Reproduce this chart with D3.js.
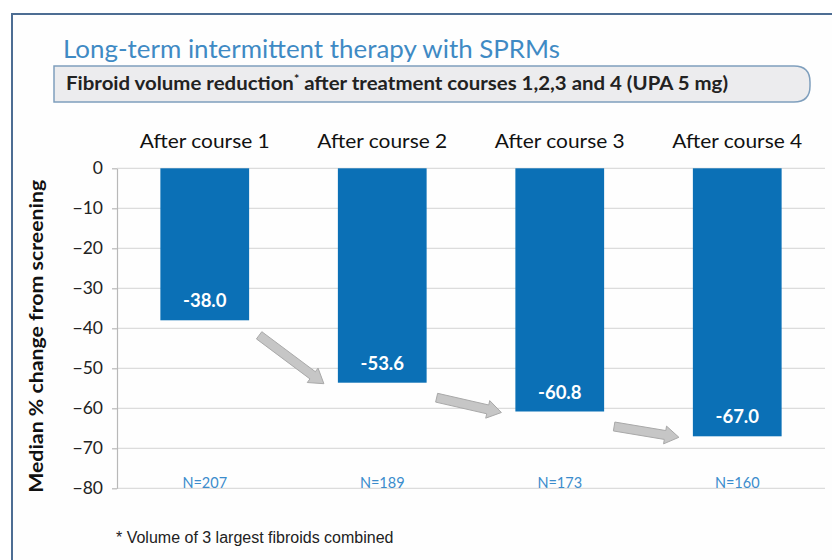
<!DOCTYPE html>
<html>
<head>
<meta charset="utf-8">
<script src="https://cdn.jsdelivr.net/npm/d3@7"></script>
<style>
  html, body { margin: 0; padding: 0; background: #fff; }
  svg { display: block; }
  .tick text { font-family: Lato, "Open Sans", sans-serif; font-size: 17.5px; fill: #222; }
</style>
</head>
<body>
<svg id="svg" width="832" height="560"></svg>
<script>
// data
const courses = ['After course 1', 'After course 2', 'After course 3', 'After course 4'];
const medianChange = [-38.0, -53.6, -60.8, -67.0];
const nPatients = [207, 189, 173, 160];
const yTicks = [0, -10, -20, -30, -40, -50, -60, -70, -80];

const svg = d3.select('svg');

// slide frame
svg.append('rect')
  .attr('x', 12).attr('y', 14)
  .attr('width', 840).attr('height', 560)
  .attr('fill', '#fefefe')
  .attr('stroke', '#4d6d93')
  .attr('stroke-width', 2);

svg.append('text')
  .attr('x', 63).attr('y', 58)
  .attr('font-family', 'Lato, sans-serif')
  .attr('font-size', 25)
  .attr('fill', '#3f8ac4')
  .attr('textLength', 497)
  .attr('lengthAdjust', 'spacingAndGlyphs')
  .text('Long-term intermittent therapy with SPRMs');

// subtitle box, square on the left, rounded on the right
const bx = 54, by = 66, bw = 756, bh = 36, br = 16;
svg.append('path')
  .attr('d', `M${bx},${by} H${bx + bw - br} Q${bx + bw},${by} ${bx + bw},${by + br} V${by + bh - br} Q${bx + bw},${by + bh} ${bx + bw - br},${by + bh} H${bx} Z`)
  .attr('fill', '#ececee')
  .attr('stroke', '#7f9fbd')
  .attr('stroke-width', 1.5);

const sub = svg.append('text')
  .attr('x', 66).attr('y', 90)
  .attr('font-family', 'Lato, sans-serif')
  .attr('font-size', 18)
  .attr('font-weight', 'bold')
  .attr('fill', '#222')
  .attr('textLength', 662)
  .attr('lengthAdjust', 'spacingAndGlyphs');
sub.append('tspan').text('Fibroid volume reduction');
sub.append('tspan').attr('dy', -7).attr('font-size', 11).text('*');
sub.append('tspan').attr('dy', 7).text(' after treatment courses 1,2,3 and 4 (UPA 5 mg)');

// chart area
const plotLeft = 117, plotRight = 825, plotTop = 168.3, plotBottom = 488.3;

const x = d3.scaleBand()
  .domain(courses)
  .range([116, 826])
  .paddingInner(0.5)
  .paddingOuter(0.25);

const y = d3.scaleLinear()
  .domain([0, -80])
  .range([plotTop, plotBottom]);

const chart = svg.append('g');

// gridlines
chart.append('g')
  .selectAll('line')
  .data(yTicks)
  .join('line')
  .attr('x1', plotLeft).attr('x2', plotRight)
  .attr('y1', d => y(d)).attr('y2', d => y(d))
  .attr('stroke', '#dcdcdc')
  .attr('stroke-width', 1.2);

const yAxis = chart.append('g')
  .attr('transform', `translate(${plotLeft},0)`)
  .call(d3.axisLeft(y).tickValues(yTicks).tickSize(5).tickPadding(9).tickSizeOuter(0));
yAxis.select('.domain').attr('stroke', '#b8b8b8').attr('stroke-width', 1.2);
yAxis.selectAll('.tick line').attr('stroke', '#b8b8b8').attr('stroke-width', 1.2);

svg.append('text')
  .attr('transform', `translate(43, ${(plotTop + plotBottom) / 2 + 8}) rotate(-90)`)
  .attr('text-anchor', 'middle')
  .attr('font-family', 'Lato, sans-serif')
  .attr('font-size', 19)
  .attr('font-weight', 'bold')
  .attr('fill', '#111')
  .attr('textLength', 313)
  .attr('lengthAdjust', 'spacingAndGlyphs')
  .text('Median % change from screening');

// category labels on top
chart.selectAll('.cat')
  .data(courses)
  .join('text')
  .attr('class', 'cat')
  .attr('x', d => x(d) + x.bandwidth() / 2)
  .attr('y', 148)
  .attr('text-anchor', 'middle')
  .attr('font-family', 'Lato, sans-serif')
  .attr('font-size', 20)
  .attr('fill', '#111')
  .attr('textLength', 130)
  .attr('lengthAdjust', 'spacingAndGlyphs')
  .text(d => d);

// bars
chart.selectAll('.bar')
  .data(medianChange)
  .join('rect')
  .attr('class', 'bar')
  .attr('x', (d, i) => x(courses[i]))
  .attr('y', y(0))
  .attr('width', x.bandwidth())
  .attr('height', d => y(d) - y(0))
  .attr('fill', '#0b70b6');

chart.selectAll('.val')
  .data(medianChange)
  .join('text')
  .attr('class', 'val')
  .attr('x', (d, i) => x(courses[i]) + x.bandwidth() / 2)
  .attr('y', d => y(d) - 13)
  .attr('text-anchor', 'middle')
  .attr('font-family', 'Lato, sans-serif')
  .attr('font-size', 18.5)
  .attr('font-weight', 'bold')
  .attr('fill', '#fff')
  .text(d => d.toFixed(1));

chart.selectAll('.n')
  .data(nPatients)
  .join('text')
  .attr('class', 'n')
  .attr('x', (d, i) => x(courses[i]) + x.bandwidth() / 2)
  .attr('y', y(-79) + 4)
  .attr('text-anchor', 'middle')
  .attr('font-family', 'Lato, sans-serif')
  .attr('font-size', 14.5)
  .attr('fill', '#3b8ccc')
  .text(d => 'N=' + d);

// grey block arrows from one bar end to the next
function blockArrow(x0, y0, x1, y1) {
  const dx = x1 - x0, dy = y1 - y0;
  const len = Math.hypot(dx, dy);
  const ux = dx / len, uy = dy / len, nx = -uy, ny = ux;
  const sw = 4.5, hw = 9, hl = 14;
  const bxh = x1 - ux * hl, byh = y1 - uy * hl;
  const pts = [
    [x0 + nx * sw, y0 + ny * sw],
    [bxh + nx * sw, byh + ny * sw],
    [bxh + nx * hw, byh + ny * hw],
    [x1, y1],
    [bxh - nx * hw, byh - ny * hw],
    [bxh - nx * sw, byh - ny * sw],
    [x0 - nx * sw, y0 - ny * sw]
  ];
  return 'M' + pts.map(p => p.join(',')).join('L') + 'Z';
}

const arrows = d3.pairs(medianChange.map((v, i) => ({ v, c: courses[i] })));
chart.selectAll('.arrow')
  .data(arrows)
  .join('path')
  .attr('class', 'arrow')
  .attr('d', ([a, b]) => blockArrow(
    x(a.c) + x.bandwidth() + 10, y(a.v) + 15,
    x(b.c) - 14, y(b.v) + 1))
  .attr('fill', '#c6c6c6')
  .attr('stroke', '#a9a9a9')
  .attr('stroke-width', 1);

svg.append('text')
  .attr('x', 116).attr('y', 543)
  .attr('font-family', '"Liberation Sans", Arial, sans-serif')
  .attr('font-size', 16)
  .attr('fill', '#222')
  .text('* Volume of 3 largest fibroids combined');
</script>
</body>
</html>
